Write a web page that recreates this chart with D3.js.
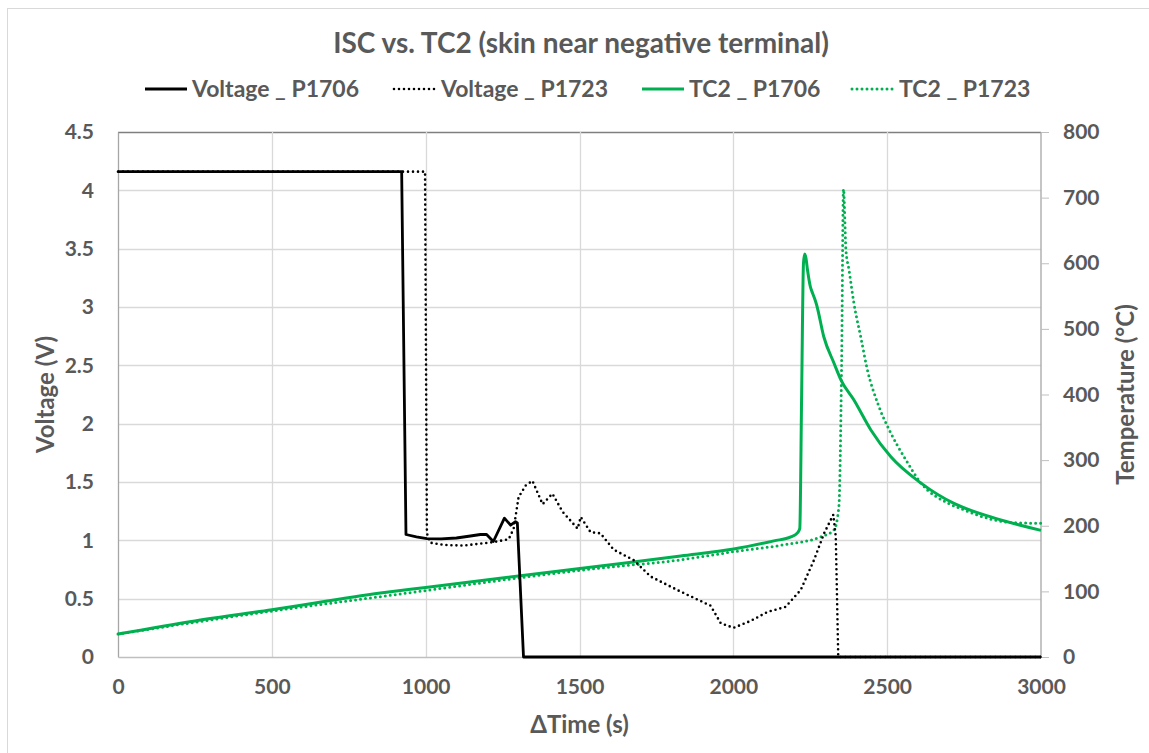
<!DOCTYPE html>
<html>
<head>
<meta charset="utf-8">
<script src="https://cdn.jsdelivr.net/npm/d3@7"></script>
<style>
  html, body { margin: 0; padding: 0; background: #fff; }
  svg { display: block; }
  text { font-family: Lato, "Open Sans", sans-serif; font-weight: bold; fill: #595959; }
</style>
</head>
<body>
<div id="chart"></div>
<script>
// ---- data ----
const titleText = "ISC vs. TC2 (skin near negative terminal)";
const seriesNames = ["Voltage _ P1706", "Voltage _ P1723", "TC2 _ P1706", "TC2 _ P1723"];
const xTicks = [0, 500, 1000, 1500, 2000, 2500, 3000];
const yLeftTicks = [0, 0.5, 1, 1.5, 2, 2.5, 3, 3.5, 4, 4.5];
const yRightTicks = [0, 100, 200, 300, 400, 500, 600, 700, 800];

const v1706_t = [0, 922, 936, 970, 1004, 1050, 1100, 1140, 1178, 1198, 1220, 1256, 1276, 1292, 1298, 1318, 3000];
const v1706_v = [4.16, 4.16, 1.05, 1.03, 1.015, 1.012, 1.02, 1.035, 1.05, 1.05, 0.99, 1.19, 1.13, 1.16, 1.15, 0, 0];

const v1723_t = [0, 998, 1004, 1015, 1060, 1123, 1221, 1270, 1286, 1302, 1325, 1347, 1380, 1412, 1445, 1494, 1504, 1536, 1568, 1611, 1676, 1731, 1829, 1926, 1959, 2001, 2057, 2111, 2170, 2219, 2262, 2295, 2325, 2333, 2341, 3000];
const v1723_v = [4.16, 4.16, 1.06, 0.98, 0.96, 0.955, 0.985, 1.01, 1.1, 1.37, 1.47, 1.51, 1.31, 1.40, 1.245, 1.10, 1.20, 1.07, 1.06, 0.92, 0.83, 0.69, 0.56, 0.44, 0.29, 0.25, 0.31, 0.386, 0.43, 0.574, 0.83, 1.06, 1.22, 1.03, 0, 0];

const tc1706_t = [0, 250, 500, 853, 1000, 1568, 1829, 2001, 2132, 2187, 2210, 2216, 2222, 2228, 2232, 2236, 2241, 2250, 2257, 2265, 2271, 2294, 2327, 2350, 2392, 2447, 2512, 2610, 2717, 2847, 3000];
const tc1706_T = [35, 55, 72, 97.5, 106, 138.7, 154, 164.6, 177, 183, 190, 196, 400, 600, 614, 608, 590, 565, 555, 545, 536, 488, 448, 422, 391.6, 346, 305, 265, 234, 212, 193];

const tc1723_t = [0, 250, 500, 853, 1568, 1829, 2001, 2176, 2284, 2327, 2343, 2352, 2358, 2366, 2376, 2392, 2414, 2436, 2469, 2512, 2555, 2610, 2697, 2740, 2838, 2913, 3000];
const tc1723_T = [35, 53, 70, 92, 135.6, 148, 160.5, 172, 183, 193.5, 229, 450, 713, 620, 590, 539, 488, 437, 387, 341, 305, 265, 234.6, 226, 210, 204.6, 203.7];

// ---- layout ----
const W = 1149, H = 753;
const L = 118, R = 1041, T = 132, B = 657;
const green = "#00b050";

const svg = d3.select("#chart").append("svg").attr("width", W).attr("height", H);

// outer border
svg.append("rect").attr("x", 7.5).attr("y", 8.5).attr("width", W).attr("height", H)
  .attr("fill", "none").attr("stroke", "#d9d9d9").attr("stroke-width", 1);

const x = d3.scaleLinear().domain([0, 3000]).range([L, R]);
const yL = d3.scaleLinear().domain([0, 4.5]).range([B, T]);
const yR = d3.scaleLinear().domain([0, 800]).range([B, T]);

// gridlines
const g = svg.append("g");
g.selectAll(".hg").data(yLeftTicks.filter(d => d > 0)).enter().append("line")
  .attr("x1", L).attr("x2", R).attr("y1", d => Math.round(yL(d)) + 0.5).attr("y2", d => Math.round(yL(d)) + 0.5)
  .attr("stroke", d => d === 4.5 ? "#7f7f7f" : "#d9d9d9").attr("stroke-width", 1.3);
g.selectAll(".vg").data(xTicks.filter(d => d > 0 && d < 3000)).enter().append("line")
  .attr("y1", T).attr("y2", B).attr("x1", d => Math.round(x(d)) + 0.5).attr("x2", d => Math.round(x(d)) + 0.5)
  .attr("stroke", "#d9d9d9").attr("stroke-width", 1.3);

// axes
const axL = svg.append("g").attr("transform", `translate(${L},0)`)
  .call(d3.axisLeft(yL).tickValues(yLeftTicks).tickSize(0).tickPadding(24).tickFormat(d3.format("")));
const axR = svg.append("g").attr("transform", `translate(${R},0)`)
  .call(d3.axisRight(yR).tickValues(yRightTicks).tickSize(8).tickPadding(14).tickFormat(d3.format("")));
const axB = svg.append("g").attr("transform", `translate(0,${B})`)
  .call(d3.axisBottom(x).tickValues(xTicks).tickSize(0).tickPadding(22).tickFormat(d3.format("")));
[axL, axR, axB].forEach(a => {
  a.selectAll("text").style("font-size", "21px").attr("fill", "#595959");
  a.selectAll("line").attr("stroke", "#bfbfbf");
});
axL.select(".domain").attr("stroke", "#a6a6a6").attr("stroke-width", 1.3);
axR.select(".domain").attr("stroke", "#a6a6a6").attr("stroke-width", 1.3).attr("d", `M0,${T}V${B}`);
axB.select(".domain").attr("stroke", "#bfbfbf").attr("stroke-width", 1.3);

// lines
const lineL = d3.line().x(d => x(d[0])).y(d => yL(d[1]));
const lineR = d3.line().x(d => x(d[0])).y(d => yR(d[1])).curve(d3.curveMonotoneX);
const zip = (a, b) => a.map((v, i) => [v, b[i]]);

const plot = svg.append("g");
plot.append("path").datum(zip(tc1723_t, tc1723_T)).attr("d", lineR)
  .attr("fill", "none").attr("stroke", green).attr("stroke-width", 3)
  .attr("stroke-dasharray", "0,5").attr("stroke-linecap", "round");
plot.append("path").datum(zip(tc1706_t, tc1706_T)).attr("d", lineR)
  .attr("fill", "none").attr("stroke", green).attr("stroke-width", 3).attr("stroke-linejoin", "round");
plot.append("path").datum(zip(v1723_t, v1723_v)).attr("d", lineL)
  .attr("fill", "none").attr("stroke", "#000").attr("stroke-width", 2.6)
  .attr("stroke-dasharray", "0,5").attr("stroke-linecap", "round");
plot.append("path").datum(zip(v1706_t, v1706_v)).attr("d", lineL)
  .attr("fill", "none").attr("stroke", "#000").attr("stroke-width", 2.8).attr("stroke-linejoin", "round");

// title
svg.append("text").attr("x", 581).attr("y", 53).attr("text-anchor", "middle")
  .style("font-size", "28px").text(titleText);

// axis titles
svg.append("text").attr("transform", `translate(54,${(T + B) / 2}) rotate(-90)`).attr("text-anchor", "middle")
  .style("font-size", "24px").text("Voltage (V)");
svg.append("text").attr("transform", `translate(1134,${(T + B) / 2}) rotate(-90)`).attr("text-anchor", "middle")
  .style("font-size", "24px").text("Temperature (°C)");
svg.append("text").attr("x", (L + R) / 2).attr("y", 733).attr("text-anchor", "middle")
  .style("font-size", "24px").text("ΔTime (s)");

// legend
const legendX = [145, 394, 642, 852];
const legendStyle = [
  { c: "#000", dash: null, w: 2.8 },
  { c: "#000", dash: "0,5", w: 2.6 },
  { c: green, dash: null, w: 3 },
  { c: green, dash: "0,5", w: 3 }
];
const lg = svg.append("g");
seriesNames.forEach((n, i) => {
  const s = legendStyle[i];
  const ln = lg.append("line").attr("x1", legendX[i]).attr("x2", legendX[i] + 42).attr("y1", 89).attr("y2", 89)
    .attr("stroke", s.c).attr("stroke-width", s.w);
  if (s.dash) ln.attr("stroke-dasharray", s.dash).attr("stroke-linecap", "round");
  lg.append("text").attr("x", legendX[i] + 47).attr("y", 97).style("font-size", "23px").text(n);
});
</script>
</body>
</html>
